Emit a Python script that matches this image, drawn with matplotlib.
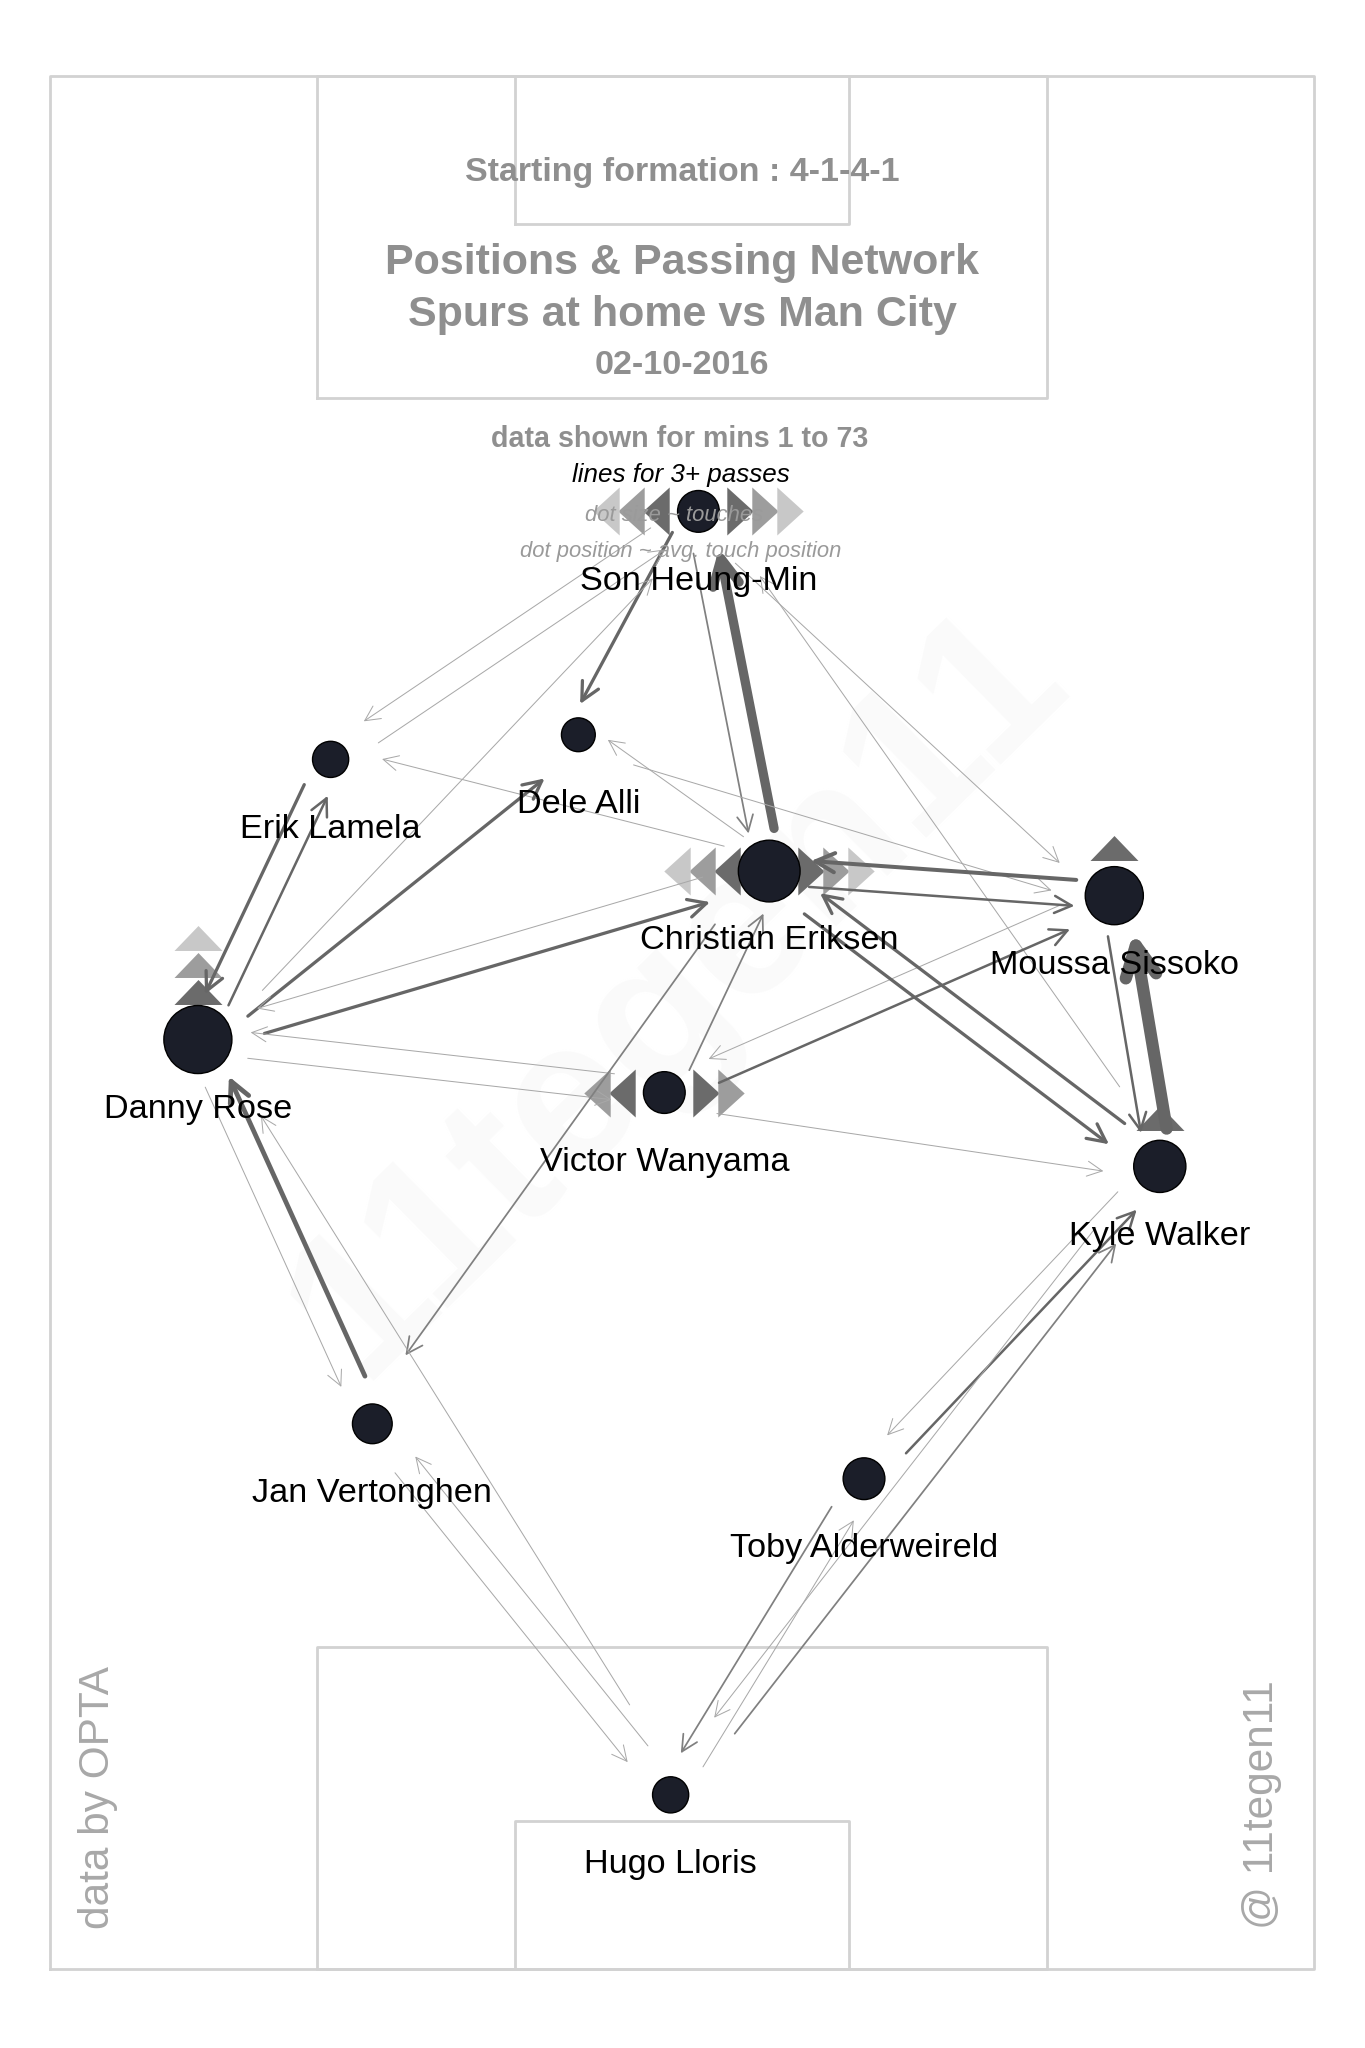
import numpy as np
import matplotlib.pyplot as plt

# players (pitch coords: x across 0-100, y along 0-100, own goal at bottom)
players = ['Son Heung-Min', 'Dele Alli', 'Erik Lamela', 'Christian Eriksen', 'Moussa Sissoko',
           'Danny Rose', 'Victor Wanyama', 'Kyle Walker', 'Jan Vertonghen', 'Toby Alderweireld',
           'Hugo Lloris']
pos_x = [51.3, 41.8, 22.2, 56.9, 84.2, 11.7, 48.6, 87.8, 25.5, 64.4, 49.1]
pos_y = [77.0, 65.2, 63.9, 58.0, 56.7, 49.1, 46.3, 42.4, 28.8, 25.9, 9.2]
touches = [32, 21, 24, 70, 62, 85, 32, 50, 29, 32, 24]
tri_left = [3, 0, 0, 3, 0, 0, 2, 0, 0, 0, 0]
tri_right = [3, 0, 0, 3, 0, 0, 2, 0, 0, 0, 0]
tri_up = [0, 0, 0, 0, 1, 3, 0, 1, 0, 0, 0]

# passes between players (3+)
pass_from = ['Christian Eriksen', 'Son Heung-Min', 'Son Heung-Min', 'Son Heung-Min', 'Erik Lamela',
             'Danny Rose', 'Son Heung-Min', 'Kyle Walker', 'Christian Eriksen', 'Christian Eriksen',
             'Dele Alli', 'Erik Lamela', 'Danny Rose', 'Danny Rose', 'Danny Rose',
             'Christian Eriksen', 'Victor Wanyama', 'Danny Rose', 'Jan Vertonghen', 'Danny Rose',
             'Christian Eriksen', 'Victor Wanyama', 'Moussa Sissoko', 'Victor Wanyama', 'Victor Wanyama',
             'Christian Eriksen', 'Kyle Walker', 'Moussa Sissoko', 'Christian Eriksen', 'Kyle Walker',
             'Moussa Sissoko', 'Kyle Walker', 'Toby Alderweireld', 'Hugo Lloris', 'Hugo Lloris',
             'Toby Alderweireld', 'Hugo Lloris', 'Jan Vertonghen', 'Hugo Lloris', 'Kyle Walker']
pass_to = ['Son Heung-Min', 'Christian Eriksen', 'Dele Alli', 'Erik Lamela', 'Son Heung-Min',
           'Son Heung-Min', 'Moussa Sissoko', 'Son Heung-Min', 'Dele Alli', 'Erik Lamela',
           'Moussa Sissoko', 'Danny Rose', 'Erik Lamela', 'Dele Alli', 'Christian Eriksen',
           'Danny Rose', 'Danny Rose', 'Victor Wanyama', 'Danny Rose', 'Jan Vertonghen',
           'Jan Vertonghen', 'Christian Eriksen', 'Victor Wanyama', 'Moussa Sissoko', 'Kyle Walker',
           'Kyle Walker', 'Christian Eriksen', 'Christian Eriksen', 'Moussa Sissoko', 'Moussa Sissoko',
           'Kyle Walker', 'Toby Alderweireld', 'Kyle Walker', 'Kyle Walker', 'Toby Alderweireld',
           'Hugo Lloris', 'Jan Vertonghen', 'Hugo Lloris', 'Danny Rose', 'Hugo Lloris']
pass_n = [14, 4, 6, 3, 3,
          3, 3, 3, 3, 3,
          3, 6, 5, 6, 6,
          3, 3, 3, 8, 3,
          4, 4, 3, 5, 3,
          6, 6, 7, 5, 18,
          5, 3, 5, 4, 3,
          4, 3, 3, 3, 3]

FONT = 'Liberation Sans'
plt.rcParams['font.family'] = [FONT, 'DejaVu Sans']

fig = plt.figure(figsize=(13.65, 20.48), dpi=100)
ax = fig.add_axes([50 / 1365, 79 / 2048, 1264 / 1365, 1893 / 2048])
ax.set_xlim(0, 100)
ax.set_ylim(0, 100)
ax.axis('off')

SX = 1264 / 100  # px per unit across
SY = 1893 / 100  # px per unit along
PT = 72 / 100    # points per pixel
DY = 0.2         # small text nudge

# pitch
line_kw = dict(color='#d2d2d2', lw=2.0, clip_on=False, zorder=1)
def box(x0, x1, y0, y1):
    ax.plot([x0, x0, x1, x1, x0], [y0, y1, y1, y0, y0], **line_kw)
box(0, 100, 0, 100)
box(21.1, 78.9, 83.0, 100)
box(36.8, 63.2, 92.2, 100)
box(21.1, 78.9, 0, 17.0)
box(36.8, 63.2, 0, 7.8)

# watermark
ax.text(49.8, 51.5, '11tegen11', rotation=44.5, fontsize=150, fontweight='bold',
        color='#fafafa', ha='center', va='center', zorder=0)

rad = {p: 3.69 * np.sqrt(t) for p, t in zip(players, touches)}
idx = {p: i for i, p in enumerate(players)}

# triangles
tri_cols = ['#6b6b6b', '#9d9d9d', '#c8c8c8']
left_m = [(-0.55, 0), (0.55, 1), (0.55, -1), (-0.55, 0)]
right_m = [(0.55, 0), (-0.55, 1), (-0.55, -1), (0.55, 0)]
up_m = [(-1, -0.52), (1, -0.52), (0, 0.52), (-1, -0.52)]
for i, p in enumerate(players):
    for k in range(tri_left[i]):
        ax.scatter(pos_x[i] - (42 + 25 * k) / SX, pos_y[i], marker=left_m,
                   s=(48 * PT) ** 2, color=tri_cols[k], linewidths=0, zorder=2)
    for k in range(tri_right[i]):
        ax.scatter(pos_x[i] + (42 + 25 * k) / SX, pos_y[i], marker=right_m,
                   s=(48 * PT) ** 2, color=tri_cols[k], linewidths=0, zorder=2)
    for k in range(tri_up[i]):
        ax.scatter(pos_x[i], pos_y[i] + (48 + 27 * k) / SY, marker=up_m,
                   s=(48 * PT) ** 2, color=tri_cols[k], linewidths=0, zorder=2)

# passing lines
for a, b, n in zip(pass_from, pass_to, pass_n):
    i, j = idx[a], idx[b]
    x0, y0 = pos_x[i] * SX, pos_y[i] * SY
    x1, y1 = pos_x[j] * SX, pos_y[j] * SY
    L = np.hypot(x1 - x0, y1 - y0)
    ux, uy = (x1 - x0) / L, (y1 - y0) / L
    nx, ny = uy, -ux
    s0 = max(rad[a] + 10, 0.11 * L)
    s1 = max(rad[b] + 10, 0.11 * L)
    off = 13
    sx_, sy_ = x0 + ux * s0 + nx * off, y0 + uy * s0 + ny * off
    ex_, ey_ = x1 - ux * s1 + nx * off, y1 - uy * s1 + ny * off
    lw = (1.0 + 0.75 * (n - 3)) * PT
    g = max(0.40, 0.66 - 0.16 * (n - 3))
    ax.annotate('', xy=(ex_ / SX, ey_ / SY), xytext=(sx_ / SX, sy_ / SY),
                arrowprops=dict(arrowstyle='->,head_length=0.7,head_width=0.35',
                                lw=lw, color=(g, g, g), shrinkA=0, shrinkB=0,
                                mutation_scale=14 + 2 * lw),
                zorder=3)

# dots
sizes = [(2 * rad[p] * PT) ** 2 for p in players]
ax.scatter(pos_x, pos_y, s=sizes, color='#1b1e29', edgecolors='black',
           linewidths=1.0, zorder=4)

for i, p in enumerate(players):
    ax.text(pos_x[i], pos_y[i] - 66 / SY - DY, p, ha='center', va='center',
            fontsize=24.7, color='black', zorder=5)

# titles
tcol = '#8f8f8f'
ax.text(50, 95.1 - DY, 'Starting formation : 4-1-4-1', ha='center', va='center',
        fontsize=24.5, fontweight='bold', color=tcol, zorder=5)
ax.text(50, 90.3 - DY, 'Positions & Passing Network', ha='center', va='center',
        fontsize=31, fontweight='bold', color=tcol, zorder=5)
ax.text(50, 87.6 - DY, 'Spurs at home vs Man City', ha='center', va='center',
        fontsize=31, fontweight='bold', color=tcol, zorder=5)
ax.text(50, 84.9 - DY, '02-10-2016', ha='center', va='center',
        fontsize=24.6, fontweight='bold', color=tcol, zorder=5)

ax.text(49.8, 81.0 - DY, 'data shown for mins 1 to 73', ha='center', va='center',
        fontsize=20.6, fontweight='bold', color=tcol, zorder=6)
ax.text(49.9, 79.1 - DY, 'lines for 3+ passes', ha='center', va='center',
        fontsize=18.7, fontstyle='italic', color='black', zorder=6)
ax.text(49.4, 77.0 - DY, 'dot size ~ touches', ha='center', va='center',
        fontsize=15.8, fontstyle='italic', color='#9a9a9a', zorder=6)
ax.text(49.9, 75.1 - DY, 'dot position ~ avg. touch position', ha='center', va='center',
        fontsize=15.8, fontstyle='italic', color='#9a9a9a', zorder=6)

ax.text(3.8, 2.1, 'data by OPTA', rotation=90, rotation_mode='anchor',
        ha='left', va='center', fontsize=30.5, color='#a8a8a8', zorder=5)
ax.text(95.9, 2.1, '@ 11tegen11', rotation=90, rotation_mode='anchor',
        ha='left', va='center', fontsize=30.5, color='#a8a8a8', zorder=5)

fig.savefig('out.png', dpi=100, facecolor='white')
